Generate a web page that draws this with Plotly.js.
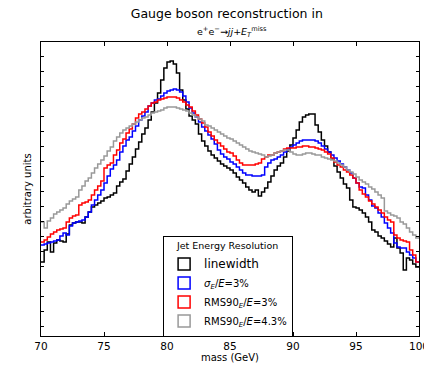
<!DOCTYPE html>
<html>
<head>
<meta charset="utf-8">
<script src="https://cdn.plot.ly/plotly-3.0.1.min.js"></script>
<style>html,body{margin:0;padding:0;background:#fff;}#chart{width:424px;height:365px;}</style>
</head>
<body>
<div id="chart"></div>
<script>
// Histogram: 120 bins of 0.25 GeV from 70 to 100 GeV (arbitrary units)
const massMin = 70;
const binWidth = 0.25;
const xTickLabels = ["70", "75", "80", "85", "90", "95", "100"];
const seriesNames = ["<span style='font-size:12px'>linewidth</span>", "<i>σ</i><sub><i>E</i></sub>/<i>E</i>=3%", "RMS90<sub><i>E</i></sub>/<i>E</i>=3%", "RMS90<sub><i>E</i></sub>/<i>E</i>=4.3%"];

const linewidth = [79,91,99,89,98,101,100,99,107,116,118,119,119,118,124,129,134,136,138,140,
143,144,146,148,155,159,162,170,177,184,192,199,207,213,221,229,238,248,261,273,
279,280,277,268,251,241,232,225,221,217,207,200,195,190,186,183,180,177,175,173,
171,168,164,161,158,154,151,149,151,145,149,153,159,165,171,175,178,184,190,196,
203,211,219,224,226,227,227,216,209,201,195,189,182,175,169,163,157,153,141,134,
133,131,128,124,119,111,109,105,103,100,97,94,103,93,88,71,83,81,77,74];

const sigma3 = [96,97,98,99,100,101,105,108,106,115,118,119,120,121,124,129,136,141,146,151,
158,165,172,176,181,189,195,201,204,210,215,221,225,229,235,238,241,242,245,248,
250,251,252,251,249,245,239,233,228,224,219,214,210,206,202,197,191,187,184,182,
179,177,174,171,168,166,166,165,165,165,166,174,178,181,182,184,186,189,192,194,
196,198,200,201,201,201,201,200,198,195,192,189,186,183,180,177,174,171,168,163,
158,154,153,146,141,135,133,128,124,118,113,108,98,94,93,93,89,86,83,79];

const rms3 = [99,101,104,107,109,111,112,113,119,123,125,126,136,138,139,141,146,151,155,160,
173,176,178,186,191,198,202,208,212,217,223,227,229,232,235,238,239,241,242,243,
244,244,244,243,241,239,236,234,230,226,222,218,214,209,205,201,198,195,192,189,
188,185,181,178,176,176,176,176,177,178,182,184,186,186,188,189,190,192,193,193,
193,194,194,195,195,194,194,193,192,191,189,187,183,179,176,174,171,169,166,163,
158,151,147,144,140,137,134,131,128,124,121,119,106,103,101,100,99,91,86,79];

const rms43 = [119,113,120,123,127,129,131,133,137,140,142,144,151,155,160,163,168,173,177,181,
185,190,194,200,204,208,211,213,215,217,219,221,223,224,226,228,229,230,231,233,
234,234,234,233,232,231,230,228,226,224,222,220,216,215,213,211,209,207,205,203,
202,200,198,196,194,192,190,189,188,187,186,184,185,186,188,189,190,191,191,189,
187,186,186,187,188,188,187,186,186,184,183,182,181,180,178,176,174,171,169,167,
164,161,159,157,154,152,149,146,143,130,128,126,125,123,119,117,113,109,106,103];

const colors = ["#000000", "#0000ff", "#ff0000", "#999999"];
const allSeries = [linewidth, sigma3, rms3, rms43];

function edges(n) {
  const e = [];
  for (let i = 0; i <= n; i++) e.push(massMin + i * binWidth);
  return e;
}

const traces = [];
allSeries.forEach((s, k) => {
  const x = edges(s.length);
  const y = s.concat([s[s.length - 1]]);
  traces.push({
    type: "scatter", mode: "lines", x: x, y: y,
    line: {shape: "hv", color: colors[k], width: 1.5},
    showlegend: false, hoverinfo: "skip"
  });
});
// legend patches (outlined boxes, matplotlib style)
allSeries.forEach((s, k) => {
  traces.push({
    type: "bar", x: [null], y: [null], name: seriesNames[k],
    marker: {color: "rgba(255,255,255,0)", line: {color: colors[k], width: 1.5}},
    showlegend: true
  });
});

const layout = {
  width: 424, height: 365,
  margin: {l: 41, r: 5, t: 42, b: 29},
  paper_bgcolor: "#ffffff", plot_bgcolor: "#ffffff",
  font: {family: "DejaVu Sans", color: "#000", size: 10},
  title: {
    text: "Gauge boson reconstruction in",
    font: {size: 12.5, family: "DejaVu Sans", color: "#000"},
    x: 0.535, xanchor: "center", yref: "container", y: 1 - 14 / 365, yanchor: "middle"
  },
  annotations: [{
    text: "e<sup>+</sup>e<sup>−</sup>→<i>jj</i>+<i>E</i><sub><i>T</i></sub><sup>miss</sup>",
    xref: "paper", yref: "paper", x: 0.505, y: 1.035, xanchor: "center", yanchor: "middle",
    showarrow: false, font: {size: 9.5, color: "#000"}
  }],
  xaxis: {
    range: [70, 100], tickvals: [70, 75, 80, 85, 90, 95, 100], ticktext: xTickLabels,
    ticks: "inside", ticklen: 4, tickcolor: "#000", mirror: "ticks",
    showline: true, linecolor: "#000", linewidth: 1, showgrid: false, zeroline: false,
    ticklabeloverflow: "allow",
    tickfont: {size: 10.5, color: "#000"},
    title: {text: "mass (GeV)", font: {size: 10}, standoff: 2}
  },
  yaxis: {
    range: [5, 299], dtick: 15, ticks: "inside", ticklen: 3, tickcolor: "#000", mirror: "ticks",
    showticklabels: false, showline: true, linecolor: "#000", linewidth: 1,
    showgrid: false, zeroline: false,
    title: {text: "arbitrary units", font: {size: 10}, standoff: 6}
  },
  legend: {
    x: 0.323, y: 0.34, xanchor: "left", yanchor: "top",
    bgcolor: "#ffffff", bordercolor: "#000", borderwidth: 1,
    font: {size: 10, color: "#000"},
    title: {text: "Jet Energy Resolution", font: {size: 9.5}, side: "top center"},
    itemwidth: 30, tracegroupgap: 0
  },
  barmode: "overlay",
  showlegend: true
};

Plotly.newPlot("chart", traces, layout, {displayModeBar: false, staticPlot: true});
</script>
</body>
</html>
